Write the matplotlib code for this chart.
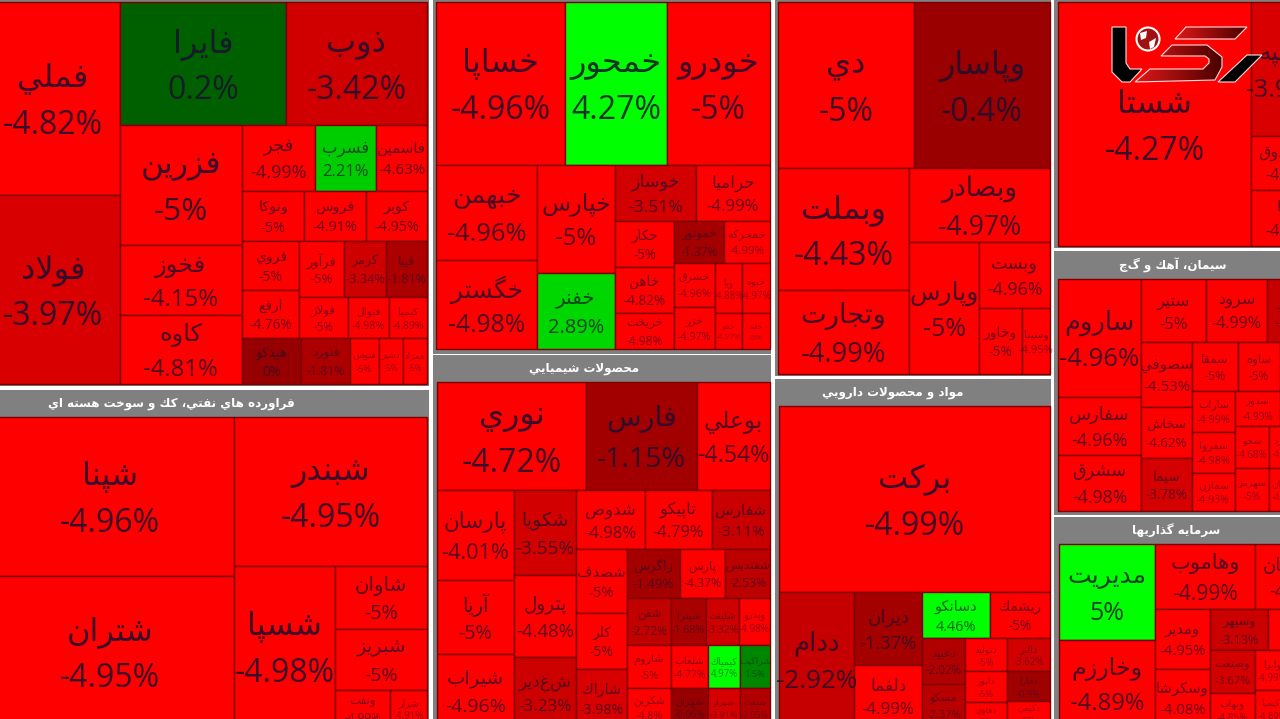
import numpy as np
import matplotlib
matplotlib.use("Agg")
import matplotlib.pyplot as plt
from matplotlib.patches import Rectangle, Polygon, Circle
from matplotlib.colors import LinearSegmentedColormap

# ---------- datos, panel por panel (size = peso estimado de cada simbolo) ----------
metal_names = ["فملي", "فولاد", "فايرا", "ذوب", "فزرين", "فخوز", "كاوه", "فجر", "فسرب", "فاسمين",
               "ونوكا", "فروس", "كوبر", "فروي", "ارفع", "فرآور", "كرمر", "فيبا", "فولاژ", "فنوال",
               "كيميا", "هيدكو", "فنورد", "فنوس", "ذشير", "فمراد"]
metal_changes = [-4.82, -3.97, 0.2, -3.42, -5, -4.15, -4.81, -4.99, 2.21, -4.63,
                 -5, -4.91, -4.95, -5, -4.76, -5, -3.34, -1.81, -5, -4.98,
                 -4.89, 0, -1.81, -5, -5, -5]
metal_sizes = [25862, 25326, 20418, 17343, 14640, 8540, 8418, 4818, 4026, 3366,
               3100, 3050, 3050, 2842, 2784, 2508, 2394, 2280, 2016, 1680,
               1596, 2714, 2208, 1334, 1104, 1104]
metal_tree = ("h", ("v", 0, 1),
              ("v", ("h", 2, 3),
               ("h", ("v", 4, 5, 6),
                ("v", ("h", 7, 8, 9), ("h", 10, 11, 12),
                 ("h", ("v", 13, 14), ("v", ("h", 15, 16, 17), ("h", 18, 19, 20))),
                 ("h", 21, 22, 23, 24, 25)))))

auto_names = ["خساپا", "خمحور", "خودرو", "خبهمن", "خگستر", "خپارس", "خفنر", "خوساز", "حراميا",
              "حكار", "خاهن", "خريخت", "خموتور", "خمحركه", "خشرق", "خزر", "ويا", "خمو", "خبوه", "خلند"]
auto_changes = [-4.96, 4.27, -5, -4.96, -4.98, -5, 2.89, -3.51, -4.99,
                -5, -4.82, -4.98, -1.37, -4.99, -4.96, -4.97, -4.88, -4.97, -4.97, -5]
auto_sizes = [21027, 16626, 16789, 9595, 8989, 8424, 5928, 4536, 4144,
              2714, 2714, 2124, 2100, 1932, 1804, 1722, 1350, 972, 1400, 1008]
auto_tree = ("v", ("h", 0, 1, 2),
             ("h", ("v", 3, 4), ("v", 5, 6),
              ("v", ("h", 7, 8),
               ("h", ("v", 9, 10, 11),
                ("v", ("h", 12, 13),
                 ("h", ("v", 14, 15), ("v", 16, 17), ("v", 18, 19)))))))

chem_names = ["نوري", "فارس", "بوعلي", "پارسان", "آريا", "شيراب", "شكويا", "پترول", "شغدير",
              "شدوص", "تاپيكو", "شفارس", "شصدف", "كلر", "شاراك", "زاگرس", "پارس", "شفنديس",
              "شفن", "شپترا", "شلينت", "وپدرو", "شاروم", "شلعاب", "كيمياك", "شراكيب",
              "شكربن", "شهران", "شيراز", "شنفت"]
chem_changes = [-4.72, -1.15, -4.54, -4.01, -5, -4.96, -3.55, -4.48, -3.23,
                -4.98, -4.79, -3.11, -5, -5, -3.98, -1.49, -4.37, -2.53,
                -2.72, -1.68, -3.32, -4.98, -5, -4.77, 4.97, 1.5,
                -4.8, -0.06, -3.91, -2.05]
chem_sizes = [16092, 11988, 7884, 6930, 5698, 5621, 5270, 5084, 4340,
              4071, 3953, 3422, 3264, 2856, 2958, 2597, 2205, 2205,
              2068, 1645, 1551, 1457, 1892, 1591, 1376, 1290,
              1716, 1443, 1248, 1170]
chem_tree = ("v", ("h", 0, 1, 2),
             ("h", ("v", 3, 4, 5), ("v", 6, 7, 8),
              ("v", ("h", 9, 10, 11),
               ("h", ("v", 12, 13, 14),
                ("v", ("h", 15, 16, 17), ("h", 18, 19, 20, 21),
                 ("h", 22, 23, 24, 25), ("h", 26, 27, 28, 29))))))

bank_names = ["دي", "وپاسار", "وبملت", "وتجارت", "وبصادر", "وپارس", "وبست", "وخاور", "وسينا"]
bank_changes = [-5, -0.4, -4.43, -4.99, -4.97, -5, -4.96, -5, -4.95]
bank_sizes = [22576, 22576, 15982, 11004, 10434, 9240, 4686, 2838, 1848]
bank_tree = ("v", ("h", 0, 1),
             ("h", ("v", 2, 3),
              ("v", 4, ("h", 5, ("v", 6, ("h", 7, 8))))))

pharma_names = ["بركت", "ددام", "ديران", "دلفما", "دسانكو", "ريشمك", "دعبيد", "مسكو",
                "دتوليد", "دابور", "دهاوي", "دالبر", "دفارا", "دكيمي"]
pharma_changes = [-4.99, -2.92, -1.37, -4.99, 4.46, -5, -2.02, -2.37,
                  -5, -5, -5, -3.62, -0.9, -5]
pharma_sizes = [50406, 10125, 4964, 4216, 3128, 2760, 1978, 1849,
                1386, 1260, 1050, 1419, 1290, 1118]
pharma_tree = ("v", 0,
               ("h", 1, ("v", 2, 3),
                ("v", ("h", 4, 5),
                 ("h", ("v", 6, 7), ("v", 8, 9, 10), ("v", 11, 12, 13)))))

holding_names = ["شستا", "وسپه", "وصندوق", "پايا"]
holding_changes = [-4.27, -3.97, -4.6, -4.8]
holding_sizes = [47092, 9246, 3726, 3864]
holding_tree = ("h", 0, ("v", 1, 2, 3))

cement_names = ["ساروم", "سفارس", "سشرق", "ستير", "سرود", "سفار", "سصوفي", "سخاش", "سيما",
                "سمقا", "ساوه", "سخزر", "ساراب", "سفروا", "سمازن", "سدور", "سبجنو",
                "سجو", "سكرد", "سقاين", "سهرمز", "سبهان", "سنير"]
cement_changes = [-4.96, -4.96, -4.98, -5, -4.99, -2.9, -4.53, -4.62, -3.78,
                  -5, -5, -4.9, -4.99, -4.98, -4.93, -4.99, -4.9,
                  -4.68, -4.8, -4.9, -5, -4.9, -4.8]
cement_sizes = [9794, 4814, 4648, 4095, 3843, 3339, 3315, 2601, 2703,
                2254, 2058, 1960, 1763, 1763, 1634, 1575, 1400,
                1428, 1260, 882, 1462, 1290, 903]
cement_tree = ("h", ("v", 0, 1, 2),
               ("v", ("h", 3, 4, 5),
                ("h", ("v", 6, 7, 8),
                 ("v", ("h", 9, 10, 11),
                  ("h", ("v", 12, 13, 14),
                   ("v", ("h", 15, 16), ("h", 17, 18, 19), ("h", 20, 21, 22)))))))

invest_names = ["مديريت", "وخارزم", "وهاموب", "وسبحان", "ومدير", "وسكرشا", "وسپهر", "ونيكي",
                "وصنعت", "وبهاب", "وايرا", "وسنا", "وكيميا", "وآذر"]
invest_changes = [5, -4.89, -4.99, -4.6, -4.95, -4.08, -3.13, -4.7,
                  -3.67, -4.85, -4.99, -4.8, -4.89, -4.9]
invest_sizes = [9216, 8352, 6500, 4875, 3245, 3190, 2378, 2542,
                1935, 1530, 1400, 1600, 1295, 1480]
invest_tree = ("h", ("v", 0, 1),
               ("v", ("h", 2, 3),
                ("h", ("v", 4, 5),
                 ("v", ("h", 6, 7),
                  ("h", ("v", 8, 9), ("v", ("h", 10, 11), ("h", 12, 13)))))))

oil_names = ["شپنا", "شتران", "شبندر", "شسپا", "شاوان", "شبريز", "ونفت", "شراز"]
oil_changes = [-4.96, -4.95, -4.95, -4.98, -5, -5, -4.99, -4.91]
oil_sizes = [39432, 37448, 28757, 16261, 5796, 5612, 2035, 1369]
oil_tree = ("h", ("v", 0, 1),
            ("v", 2, ("h", 3, ("v", 4, 5, ("h", 6, 7)))))

# cajas en pixeles de la imagen: marco gris, zona de celdas, titulo y su centro
# (la captura corta los paneles de los bordes, por eso hay cajas fuera de 0-1280)
panels = [
    ((-20, 0, 429, 386), (-14, 2, 427, 384), metal_names, metal_changes, metal_sizes, metal_tree, None, 0),
    ((433, 0, 771, 354), (436, 2, 770, 349), auto_names, auto_changes, auto_sizes, auto_tree, None, 0),
    ((433, 355, 771, 730), (437, 382, 770, 727), chem_names, chem_changes, chem_sizes, chem_tree,
     "محصولات شيميايي", 584),
    ((775, 0, 1051, 376), (778, 2, 1050, 374), bank_names, bank_changes, bank_sizes, bank_tree, None, 0),
    ((775, 379, 1051, 730), (779, 406, 1050, 727), pharma_names, pharma_changes, pharma_sizes, pharma_tree,
     "مواد و محصولات دارويي", 893),
    ((1054, 0, 1340, 248), (1058, 2, 1320, 246), holding_names, holding_changes, holding_sizes, holding_tree, None, 0),
    ((1054, 251, 1340, 515), (1058, 279, 1320, 511), cement_names, cement_changes, cement_sizes, cement_tree,
     "سيمان، آهك و گچ", 1173),
    ((1054, 517, 1340, 730), (1059, 544, 1330, 727), invest_names, invest_changes, invest_sizes, invest_tree,
     "سرمايه گذاريها", 1176),
    ((-20, 390, 429, 730), (-14, 417, 427, 727), oil_names, oil_changes, oil_sizes, oil_tree,
     "فراورده هاي نفتي، كك و سوخت هسته اي", 171),
]

# ---------- texto arabe: matplotlib no da forma a las letras ----------
FORMS = {
    "ء": (0xFE80,), "آ": (0xFE81, 0xFE82), "ا": (0xFE8D, 0xFE8E), "د": (0xFEA9, 0xFEAA), "ذ": (0xFEAB, 0xFEAC),
    "ر": (0xFEAD, 0xFEAE), "ز": (0xFEAF, 0xFEB0), "ژ": (0xFB8A, 0xFB8B), "و": (0xFEED, 0xFEEE),
    "ب": (0xFE8F, 0xFE90, 0xFE91, 0xFE92), "پ": (0xFB56, 0xFB57, 0xFB58, 0xFB59), "ت": (0xFE95, 0xFE96, 0xFE97, 0xFE98),
    "ج": (0xFE9D, 0xFE9E, 0xFE9F, 0xFEA0), "ح": (0xFEA1, 0xFEA2, 0xFEA3, 0xFEA4), "خ": (0xFEA5, 0xFEA6, 0xFEA7, 0xFEA8),
    "س": (0xFEB1, 0xFEB2, 0xFEB3, 0xFEB4), "ش": (0xFEB5, 0xFEB6, 0xFEB7, 0xFEB8), "ص": (0xFEB9, 0xFEBA, 0xFEBB, 0xFEBC),
    "ع": (0xFEC9, 0xFECA, 0xFECB, 0xFECC), "ف": (0xFED1, 0xFED2, 0xFED3, 0xFED4), "ق": (0xFED5, 0xFED6, 0xFED7, 0xFED8),
    "ك": (0xFED9, 0xFEDA, 0xFEDB, 0xFEDC), "گ": (0xFB92, 0xFB93, 0xFB94, 0xFB95), "ل": (0xFEDD, 0xFEDE, 0xFEDF, 0xFEE0),
    "م": (0xFEE1, 0xFEE2, 0xFEE3, 0xFEE4), "ن": (0xFEE5, 0xFEE6, 0xFEE7, 0xFEE8), "ه": (0xFEE9, 0xFEEA, 0xFEEB, 0xFEEC),
    "ي": (0xFEF1, 0xFEF2, 0xFEF3, 0xFEF4),
}


def shape(word):
    out = []
    i = 0
    while i < len(word):
        c = word[i]
        if c not in FORMS:
            out.append(c)
            i += 1
            continue
        prev = word[i - 1] if i > 0 else " "
        joined_prev = prev in FORMS and len(FORMS[prev]) == 4
        if c == "ل" and i + 1 < len(word) and word[i + 1] == "ا":
            out.append(chr(0xFEFC if joined_prev else 0xFEFB))
            i += 2
            continue
        nxt = word[i + 1] if i + 1 < len(word) else " "
        joins_next = nxt in FORMS and len(FORMS[c]) == 4
        f = FORMS[c]
        if len(f) == 1:
            out.append(chr(f[0]))
        elif joined_prev and joins_next:
            out.append(chr(f[3]))
        elif joined_prev:
            out.append(chr(f[1]))
        elif joins_next:
            out.append(chr(f[2]))
        else:
            out.append(chr(f[0]))
        i += 1
    return "".join(out)[::-1]


def cell_color(v):
    if v > 0:
        g = np.interp(v, [0, 1.5, 2.2, 3, 4], [90, 135, 205, 215, 255])
        return (0, g / 255, 0)
    a = -v
    if a >= 4:
        return (1, 0, 0)
    r = np.interp(a, [0, 1.5, 3, 3.5, 3.99], [150, 165, 200, 210, 216])
    return (r / 255, 0, 0)


def weight(node, sizes):
    if isinstance(node, int):
        return sizes[node]
    return sum(weight(n, sizes) for n in node[1:])


def layout(node, box, sizes, found):
    if isinstance(node, int):
        found.append((node, box))
        return
    x0, y0, x1, y1 = box
    total = weight(node, sizes)
    pos = x0 if node[0] == "h" else y0
    for child in node[1:]:
        share = weight(child, sizes) / total
        if node[0] == "h":
            step = (x1 - x0) * share
            layout(child, (pos, y0, pos + step, y1), sizes, found)
        else:
            step = (y1 - y0) * share
            layout(child, (x0, pos, x1, pos + step), sizes, found)
        pos += step


fig = plt.figure(figsize=(12.8, 7.19), dpi=100, facecolor="white")
ax = fig.add_axes([0, 0, 1, 1])
ax.set_xlim(0, 1280)
ax.set_ylim(719, 0)
ax.axis("off")

for frame, box, names, changes, sizes, tree, title, title_x in panels:
    ax.add_patch(Rectangle((frame[0], frame[1]), frame[2] - frame[0], frame[3] - frame[1],
                           facecolor="#808080", edgecolor="none", zorder=1))
    if title:
        ax.text(title_x, (frame[1] + box[1]) / 2, shape(title), color="white", fontsize=8.6,
                fontweight="bold", ha="center", va="center", family="DejaVu Sans", zorder=5, clip_on=True)
    found = []
    layout(tree, box, sizes, found)
    for i, (x0, y0, x1, y1) in found:
        ax.add_patch(Rectangle((x0, y0), x1 - x0, y1 - y0, facecolor=cell_color(changes[i]),
                               edgecolor="#7d0000", linewidth=1, zorder=2))
        em = min(32, 0.26 * np.sqrt((x1 - x0) * (y1 - y0)))
        size_pt = em * 0.72
        alpha = np.interp(em, [8, 14, 30], [0.4, 0.65, 0.85])
        cx = (x0 + x1) / 2
        cy = (y0 + y1) / 2
        ax.text(cx, cy - 0.6 * em, shape(names[i]), fontsize=size_pt, family="DejaVu Sans", color="#1a1030",
                alpha=alpha, ha="center", va="center", zorder=4, clip_on=True)
        ax.text(cx, cy + 0.85 * em, f"{changes[i]:g}%", fontsize=size_pt, family=["Open Sans", "DejaVu Sans"],
                color="#1a1030", alpha=alpha, ha="center", va="center", zorder=4, clip_on=True)

# marca de agua arriba a la derecha
grad = LinearSegmentedColormap.from_list("logo", ["#e01818", "#4a0000"])
ramp = np.linspace(0, 1, 256).reshape(1, -1)
shapes = [[(1186, 27), (1247, 27), (1235, 39), (1175, 39)],
          [(1172, 45), (1207, 45), (1222, 57), (1222, 67), (1215, 80), (1135, 82), (1150, 69),
           (1203, 69), (1209, 63), (1209, 59), (1205, 56), (1161, 56)]]
for pts in shapes:
    poly = Polygon(pts, closed=True, facecolor="none", edgecolor="#ffdddd", linewidth=0.8, zorder=7)
    ax.add_patch(poly)
    xs = [p[0] for p in pts]
    ys = [p[1] for p in pts]
    im = ax.imshow(ramp, cmap=grad, extent=(min(xs), max(xs), max(ys), min(ys)), aspect="auto", zorder=6)
    im.set_clip_path(poly)
black = [[(1112, 27), (1126, 27), (1126, 63), (1130, 69), (1142, 69), (1130, 82), (1122, 82), (1112, 72)],
         [(1247, 55), (1262, 55), (1235, 82), (1218, 82)]]
for pts in black:
    ax.add_patch(Polygon(pts, closed=True, facecolor="black", edgecolor="#ffdddd", linewidth=0.8, zorder=7))
ax.add_patch(Circle((1148, 39), 11.5, facecolor="#a01010", edgecolor="white", linewidth=1.5, zorder=7))
ax.add_patch(Polygon([(1140, 33), (1147, 31), (1146, 38), (1141, 40)], closed=True, facecolor="white", edgecolor="none", zorder=8))
ax.add_patch(Polygon([(1149, 42), (1156, 38), (1154, 47), (1150, 49)], closed=True, facecolor="white", edgecolor="none", zorder=8))
ax.set_xlim(0, 1280)
ax.set_ylim(719, 0)

fig.savefig("out.png", dpi=100)
